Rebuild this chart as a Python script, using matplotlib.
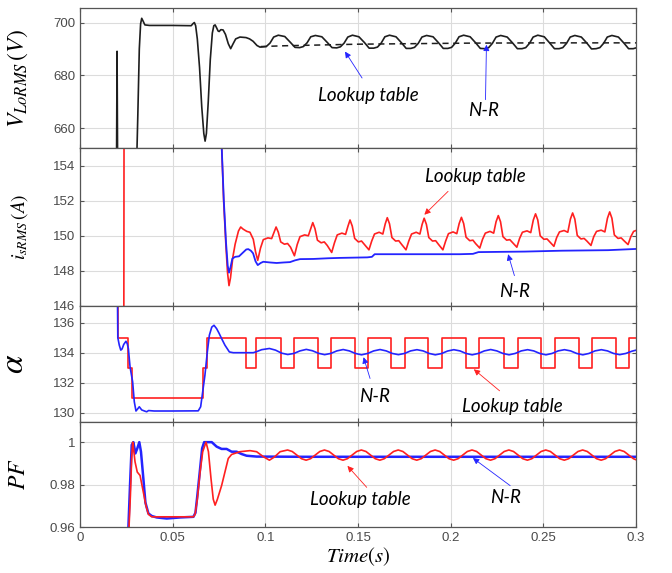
import matplotlib.pyplot as plt

plt.rcParams['mathtext.fontset'] = 'stix'
plt.rcParams['font.family'] = ['Liberation Sans', 'DejaVu Sans']

# ---------------- panel 1: V_LoRMS ----------------
v_lt_t = [0.0197, 0.0200, 0.0203, 0.0305, 0.0312, 0.0320, 0.0327, 0.0333, 0.0340, 0.0350,
          0.0375, 0.0500, 0.0600, 0.0610, 0.0617, 0.0624, 0.0633, 0.0645, 0.0657, 0.0668,
          0.0675, 0.0682, 0.0692, 0.0703, 0.0714, 0.0722, 0.0729, 0.0737, 0.0745, 0.0751,
          0.0760, 0.0772, 0.0785, 0.0800, 0.0813, 0.0825, 0.0840, 0.0863, 0.0896, 0.0915,
          0.0934, 0.0955, 0.0971,
          0.1005, 0.1025, 0.1045, 0.1070, 0.1105, 0.1135, 0.1160, 0.1185,
          0.1205, 0.1225, 0.1245, 0.1270, 0.1305, 0.1335, 0.1360, 0.1385,
          0.1405, 0.1425, 0.1445, 0.1470, 0.1505, 0.1535, 0.1560, 0.1585,
          0.1605, 0.1625, 0.1645, 0.1670, 0.1705, 0.1735, 0.1760, 0.1785,
          0.1805, 0.1825, 0.1845, 0.1870, 0.1905, 0.1935, 0.1960, 0.1985,
          0.2005, 0.2025, 0.2045, 0.2070, 0.2105, 0.2135, 0.2160, 0.2185,
          0.2205, 0.2225, 0.2245, 0.2270, 0.2305, 0.2335, 0.2360, 0.2385,
          0.2405, 0.2425, 0.2445, 0.2470, 0.2505, 0.2535, 0.2560, 0.2585,
          0.2605, 0.2625, 0.2645, 0.2670, 0.2705, 0.2735, 0.2760, 0.2785,
          0.2805, 0.2825, 0.2845, 0.2870, 0.2905, 0.2935, 0.2960, 0.2985, 0.3000]
v_lt = [645, 689.1, 645, 645, 665, 690, 699.5, 701.6, 700.6, 699.1,
        698.9, 698.9, 698.8, 699.6, 700.0, 698.8, 693.8, 683, 668, 658,
        655.1, 658, 670, 686, 696, 698.8, 699.1, 698.0, 696.8, 696.6,
        697.3, 697.2, 695.5, 692.0, 690.1, 691.8, 693.8, 694.5, 694.3, 693.8,
        692.9, 691.3, 690.7,
        690.9, 692.2, 694.5, 695.2, 694.7, 692.5, 690.6, 690.5,
        690.9, 692.3, 694.6, 695.1, 694.6, 692.4, 690.5, 690.4,
        690.8, 692.2, 694.5, 695.2, 694.6, 692.4, 690.3, 690.3,
        690.7, 692.2, 694.6, 695.2, 694.6, 692.3, 690.2, 690.2,
        690.6, 692.1, 694.5, 695.1, 694.6, 692.3, 690.2, 690.2,
        690.6, 692.2, 694.6, 695.2, 694.6, 692.3, 690.2, 690.1,
        690.5, 692.1, 694.5, 695.1, 694.5, 692.2, 690.1, 690.1,
        690.5, 692.1, 694.5, 695.2, 694.6, 692.2, 690.1, 690.1,
        690.5, 692.1, 694.5, 695.1, 694.5, 692.2, 690.0, 690.1,
        690.5, 692.1, 694.5, 695.1, 694.5, 692.2, 690.1, 690.1, 690.4]
v_nr_t = [0.0975, 0.1100, 0.1300, 0.1500, 0.1800, 0.2100, 0.2500, 0.3000]
v_nr = [690.9, 691.2, 691.5, 691.8, 692.0, 692.2, 692.3, 692.3]

# ---------------- panel 2: i_sRMS ----------------
i_lt_t = [0.0236, 0.0239, 0.0758, 0.0764, 0.0775, 0.0787, 0.0796, 0.0804, 0.0812, 0.0825,
          0.0837, 0.0855, 0.0867, 0.0880, 0.0900, 0.0917, 0.0935, 0.0947, 0.0959,
          0.0974, 0.0989, 0.1014, 0.1034, 0.1047, 0.1058, 0.1070, 0.1083, 0.1103, 0.1120, 0.1136, 0.1157,
          0.1172, 0.1187, 0.1212, 0.1232, 0.1245, 0.1256, 0.1268, 0.1281, 0.1301, 0.1318, 0.1334, 0.1358,
          0.1373, 0.1388, 0.1413, 0.1433, 0.1446, 0.1457, 0.1469, 0.1482, 0.1502, 0.1519, 0.1535, 0.1559,
          0.1574, 0.1589, 0.1614, 0.1634, 0.1647, 0.1658, 0.1670, 0.1683, 0.1703, 0.1720, 0.1736, 0.1759,
          0.1774, 0.1789, 0.1814, 0.1834, 0.1846, 0.1857, 0.1869, 0.1882, 0.1902, 0.1919, 0.1935, 0.1958,
          0.1973, 0.1988, 0.2013, 0.2033, 0.2046, 0.2058, 0.2070, 0.2083, 0.2103, 0.2120, 0.2135, 0.2157,
          0.2172, 0.2187, 0.2212, 0.2232, 0.2245, 0.2257, 0.2269, 0.2282, 0.2302, 0.2319, 0.2335, 0.2357,
          0.2372, 0.2387, 0.2412, 0.2432, 0.2446, 0.2458, 0.2470, 0.2483, 0.2503, 0.2520, 0.2535, 0.2557,
          0.2572, 0.2587, 0.2612, 0.2632, 0.2646, 0.2658, 0.2670, 0.2683, 0.2703, 0.2720, 0.2735, 0.2757,
          0.2772, 0.2787, 0.2812, 0.2832, 0.2846, 0.2858, 0.2870, 0.2883, 0.2903, 0.2920, 0.2935, 0.2957,
          0.2972, 0.2987, 0.3000]
i_lt = [140, 170, 170, 155.2, 152.0, 149.5, 147.9, 147.16, 147.6, 148.8,
        149.52, 150.27, 150.5, 150.38, 150.25, 150.2, 149.8, 149.1, 148.6,
        149.3, 149.78, 149.88, 149.84, 150.2, 150.5, 150.2, 149.65, 149.52, 149.56, 149.35, 148.86,
        149.5, 149.95, 150.05, 150.0, 150.4, 150.75, 150.4, 149.75, 149.6, 149.65, 149.45, 149.05,
        149.6, 150.05, 150.15, 150.08, 150.55, 150.9, 150.55, 149.85, 149.65, 149.7, 149.5, 149.2,
        149.7, 150.1, 150.2, 150.1, 150.68, 151.03, 150.68, 149.9, 149.7, 149.72, 149.5, 149.2,
        149.7, 150.1, 150.2, 150.1, 150.65, 151.0, 150.65, 149.9, 149.7, 149.72, 149.5, 149.2,
        149.7, 150.12, 150.22, 150.12, 150.7, 151.05, 150.7, 149.92, 149.72, 149.75, 149.55, 149.3,
        149.8, 150.15, 150.25, 150.15, 150.8, 151.15, 150.8, 149.95, 149.75, 149.78, 149.6, 149.35,
        149.85, 150.2, 150.28, 150.18, 150.9, 151.25, 150.9, 150.0, 149.8, 149.82, 149.65, 149.4,
        149.9, 150.22, 150.3, 150.2, 150.95, 151.3, 150.95, 150.02, 149.82, 149.85, 149.7, 149.45,
        149.95, 150.25, 150.32, 150.22, 151.0, 151.36, 151.0, 150.05, 149.85, 149.88, 149.72, 149.5,
        149.95, 150.25, 150.3]
i_nr_t = [0.0758, 0.0764, 0.0776, 0.0788, 0.0797, 0.0804, 0.0812, 0.0822, 0.0837, 0.0858,
          0.0880, 0.0897, 0.0908, 0.0922, 0.0934, 0.0947, 0.0959, 0.0975, 0.0989, 0.1025,
          0.1061, 0.1100, 0.1133, 0.1160, 0.1187, 0.1259, 0.1340, 0.1403, 0.1550, 0.1575,
          0.1590, 0.2050, 0.2120, 0.2150, 0.2400, 0.2600, 0.2850, 0.3000]
i_nr = [160, 155.2, 152.0, 149.6, 148.3, 147.9, 148.2, 148.7, 148.8, 148.83,
        149.05, 149.22, 149.24, 149.15, 149.0, 148.55, 148.33, 148.45, 148.52, 148.48,
        148.45, 148.48, 148.5, 148.6, 148.67, 148.68, 148.72, 148.74, 148.77, 148.8,
        148.95, 148.95, 148.97, 149.07, 149.1, 149.15, 149.18, 149.25]

# ---------------- panel 3: alpha ----------------
a_lt_t = [0.0200, 0.0203, 0.0261, 0.0282, 0.0662, 0.0687, 0.0896, 0.0951, 0.1086, 0.1152,
          0.1284, 0.1354, 0.1482, 0.1552, 0.1680, 0.1754, 0.1880, 0.1955, 0.2084, 0.2154,
          0.2286, 0.2362, 0.2487, 0.2563, 0.2690, 0.2760, 0.2892, 0.2961, 0.3000]
a_lt = [140, 135, 133, 131, 133, 135, 133, 135, 133, 135,
        133, 135, 133, 135, 133, 135, 133, 135, 133, 135,
        133, 135, 133, 135, 133, 135, 133, 135, 135]
a_nr_t = [0.0202, 0.0204, 0.0212, 0.0220, 0.0227, 0.0236, 0.0248, 0.0255, 0.0261, 0.0270,
          0.0284, 0.0293, 0.0302, 0.0310, 0.0320, 0.0333, 0.0350, 0.0360, 0.0370, 0.0400,
          0.0500, 0.0638, 0.0651, 0.0662, 0.0674, 0.0687, 0.0698, 0.0711, 0.0723, 0.0737,
          0.0750, 0.0764, 0.0782, 0.0806, 0.0827, 0.0881, 0.0935, 0.0955, 0.0980,
          0.1022, 0.1055, 0.1088, 0.1121, 0.1154, 0.1187,
          0.1221, 0.1254, 0.1287, 0.1320, 0.1353, 0.1386,
          0.1420, 0.1453, 0.1486, 0.1519, 0.1552, 0.1585,
          0.1619, 0.1652, 0.1685, 0.1718, 0.1751, 0.1784,
          0.1818, 0.1851, 0.1884, 0.1917, 0.1950, 0.1983,
          0.2017, 0.2050, 0.2083, 0.2116, 0.2149, 0.2182,
          0.2216, 0.2249, 0.2282, 0.2315, 0.2348, 0.2381,
          0.2415, 0.2448, 0.2481, 0.2514, 0.2547, 0.2580,
          0.2614, 0.2647, 0.2680, 0.2713, 0.2746, 0.2779,
          0.2813, 0.2846, 0.2879, 0.2912, 0.2945, 0.2978, 0.3000]
a_nr = [138, 135.0, 134.5, 134.17, 134.25, 134.55, 134.76, 134.6, 134.27, 133.06,
        132.07, 130.74, 130.13, 130.25, 130.41, 130.2, 130.12, 130.08, 130.16, 130.13,
        130.13, 130.14, 130.41, 131.4, 132.5, 134.05, 135.16, 135.7, 135.82, 135.6,
        135.3, 134.94, 134.5, 134.05, 134.0, 134.0, 134.0, 134.08, 134.2,
        134.28, 134.17, 133.97, 133.88, 133.95, 134.12,
        134.22, 134.13, 133.96, 133.87, 133.95, 134.12,
        134.21, 134.12, 133.95, 133.86, 133.95, 134.12,
        134.21, 134.12, 133.95, 133.87, 133.95, 134.12,
        134.2, 134.12, 133.95, 133.86, 133.94, 134.11,
        134.2, 134.12, 133.95, 133.86, 133.95, 134.12,
        134.21, 134.12, 133.95, 133.86, 133.95, 134.12,
        134.2, 134.12, 133.95, 133.86, 133.95, 134.12,
        134.2, 134.12, 133.95, 133.86, 133.95, 134.12,
        134.2, 134.12, 133.95, 133.87, 133.95, 134.1, 134.17]

# ---------------- panel 4: PF ----------------
pf_lt_t = [0.0262, 0.0272, 0.0279, 0.0284, 0.0290, 0.0297, 0.0309, 0.0324, 0.0342, 0.0356,
           0.0369, 0.0387, 0.0500, 0.0612, 0.0621, 0.0633, 0.0648, 0.0662, 0.0680, 0.0693,
           0.0707, 0.0719, 0.0729, 0.0741, 0.0764, 0.0782, 0.0800, 0.0818, 0.0863, 0.0917,
           0.0953, 0.0990, 0.1022, 0.1049, 0.1080,
           0.1120, 0.1145, 0.1170, 0.1195, 0.1220, 0.1244, 0.1269, 0.1294,
           0.1319, 0.1344, 0.1369, 0.1394, 0.1419, 0.1443, 0.1468, 0.1493,
           0.1518, 0.1543, 0.1568, 0.1593, 0.1618, 0.1642, 0.1667, 0.1692,
           0.1717, 0.1742, 0.1767, 0.1792, 0.1817, 0.1841, 0.1866, 0.1891,
           0.1916, 0.1941, 0.1966, 0.1991, 0.2016, 0.2040, 0.2065, 0.2090,
           0.2115, 0.2140, 0.2165, 0.2190, 0.2215, 0.2239, 0.2264, 0.2289,
           0.2314, 0.2339, 0.2364, 0.2389, 0.2414, 0.2438, 0.2463, 0.2488,
           0.2513, 0.2538, 0.2563, 0.2588, 0.2613, 0.2637, 0.2662, 0.2687,
           0.2712, 0.2737, 0.2762, 0.2787, 0.2812, 0.2836, 0.2861, 0.2886,
           0.2911, 0.2936, 0.2961, 0.2986, 0.3000]
pf_lt = [0.955, 0.975, 0.993, 1.0, 0.996, 0.9907, 0.9859, 0.9843, 0.9763, 0.970,
         0.966, 0.9648, 0.9648, 0.9648, 0.9660, 0.9731, 0.9859, 0.9955, 1.0, 0.9955,
         0.9827, 0.9731, 0.9703, 0.9730, 0.9795, 0.9859, 0.9923, 0.9942, 0.9955, 0.9960,
         0.9955, 0.9931, 0.9915, 0.9930, 0.9955,
         0.9963, 0.9956, 0.9939, 0.9922, 0.9915, 0.9922, 0.9939, 0.9956,
         0.9963, 0.9956, 0.9939, 0.9922, 0.9915, 0.9922, 0.9939, 0.9956,
         0.9963, 0.9956, 0.9939, 0.9922, 0.9915, 0.9922, 0.9939, 0.9956,
         0.9963, 0.9956, 0.9939, 0.9922, 0.9915, 0.9922, 0.9939, 0.9956,
         0.9963, 0.9956, 0.9939, 0.9922, 0.9915, 0.9922, 0.9939, 0.9956,
         0.9963, 0.9956, 0.9939, 0.9922, 0.9915, 0.9922, 0.9939, 0.9956,
         0.9963, 0.9956, 0.9939, 0.9922, 0.9915, 0.9922, 0.9939, 0.9956,
         0.9963, 0.9956, 0.9939, 0.9922, 0.9915, 0.9922, 0.9939, 0.9956,
         0.9963, 0.9956, 0.9939, 0.9922, 0.9915, 0.9922, 0.9939, 0.9956,
         0.9963, 0.9956, 0.9939, 0.9922, 0.9917]
pf_nr_t = [0.0259, 0.0270, 0.0279, 0.0288, 0.0299, 0.0309, 0.0320, 0.0329, 0.0342, 0.0353,
           0.0369, 0.0387, 0.0414, 0.0468, 0.0540, 0.0612, 0.0623, 0.0633, 0.0648, 0.0659,
           0.0670, 0.0711, 0.0737, 0.0764, 0.0791, 0.0818, 0.0845, 0.0872, 0.0899, 0.0953,
           0.1200, 0.3000]
pf_nr = [0.955, 0.980, 0.9987, 1.0, 0.9947, 0.997, 1.0, 0.9955, 0.9827, 0.9715,
         0.9664, 0.9652, 0.9645, 0.9640, 0.9645, 0.9648, 0.9667, 0.9747, 0.9875, 0.9971,
         1.0, 1.0, 0.9979, 0.9968, 0.9968, 0.9955, 0.9955, 0.9944, 0.9936, 0.9932,
         0.9931, 0.9931]

x_ticks = [0, 0.05, 0.1, 0.15, 0.2, 0.25, 0.3]
x_tick_labels = ['0', '0.05', '0.1', '0.15', '0.2', '0.25', '0.3']

RED = '#ff2020'
BLUE = '#2424ff'
ANN_FONT = dict(family=['Lato', 'DejaVu Sans'], style='italic', fontsize=13.5, color='#000000')


def panel(fig, top_px, bottom_px):
    left, width = 80 / 672, 556 / 672
    return fig.add_axes([left, 1 - bottom_px / 573, width, (bottom_px - top_px) / 573])


def style_axis(ax, yticks, ylim, ylabel, label_size):
    ax.set_xlim(0, 0.3)
    ax.set_ylim(*ylim)
    ax.set_xticks(x_ticks)
    ax.set_yticks(yticks)
    ax.grid(True, color='#dcdcdc', lw=0.8)
    ax.set_axisbelow(True)
    ax.tick_params(direction='in', length=3, top=True, right=True, color='#555555',
                   labelcolor='#4a4a4a', labelsize=9.5)
    for sp in ax.spines.values():
        sp.set_color('#555555')
        sp.set_linewidth(0.9)
    ax.set_ylabel(ylabel, fontsize=label_size)
    ax.yaxis.set_label_coords(-0.09, 0.5)


def arrow(ax, text, text_xy, tail, tip, color):
    ax.text(*text_xy, text, ha='center', va='center', **ANN_FONT)
    ax.annotate('', xy=tip, xytext=tail,
                arrowprops=dict(arrowstyle='-|>', color=color, lw=0.6, mutation_scale=9,
                                shrinkA=0, shrinkB=0))


fig = plt.figure(figsize=(6.72, 5.73), dpi=100)
ax1 = panel(fig, 8, 148)
ax2 = panel(fig, 148, 306)
ax3 = panel(fig, 306, 422)
ax4 = panel(fig, 422, 527)

# panel 1
ax1.plot(v_lt_t, v_lt, color='#1e1e1e', lw=1.2)
ax1.plot(v_nr_t, v_nr, color='#1e1e1e', lw=1.1, ls=(0, (4, 3)))
style_axis(ax1, [660, 680, 700], (652.5, 705.5), r'$V_{LoRMS}\,(V)$', 17)
arrow(ax1, 'Lookup table', (0.1557, 672.5), (0.1522, 679.0), (0.1430, 689.0), BLUE)
arrow(ax1, 'N-R', (0.2180, 666.8), (0.2188, 670.8), (0.2193, 691.6), BLUE)

# panel 2
ax2.plot(i_lt_t, i_lt, color=RED, lw=1.2)
ax2.plot(i_nr_t, i_nr, color=BLUE, lw=1.3)
style_axis(ax2, [146, 148, 150, 152, 154], (146, 155), r'$i_{sRMS}\,(A)$', 14)
arrow(ax2, 'Lookup table', (0.2135, 153.38), (0.1986, 152.53), (0.1858, 151.2), RED)
arrow(ax2, 'N-R', (0.2344, 146.8), (0.2344, 147.73), (0.2310, 148.95), BLUE)

# panel 3
ax3.step(a_lt_t, a_lt, where='post', color=RED, lw=1.2)
ax3.plot(a_nr_t, a_nr, color=BLUE, lw=1.2)
style_axis(ax3, [130, 132, 134, 136], (129.4, 137.1), r'$\alpha$', 24)
arrow(ax3, 'N-R', (0.1592, 131.07), (0.1565, 132.29), (0.1530, 133.7), BLUE)
arrow(ax3, 'Lookup table', (0.2331, 130.46), (0.2264, 131.47), (0.2125, 132.9), RED)

# panel 4
ax4.plot(pf_nr_t, pf_nr, color=BLUE, lw=1.8)
ax4.plot(pf_lt_t, pf_lt, color=RED, lw=1.2)
style_axis(ax4, [0.96, 0.98, 1.0], (0.96, 1.0095), r'$PF$', 17)
ax4.set_yticklabels(['0.96', '0.98', '1'])
arrow(ax4, 'Lookup table', (0.1511, 0.9731), (0.1547, 0.9787), (0.1443, 0.9888), RED)
arrow(ax4, 'N-R', (0.2298, 0.9739), (0.2321, 0.9795), (0.2120, 0.9925), BLUE)

for ax in (ax1, ax2, ax3):
    ax.tick_params(labelbottom=False)
ax4.set_xticklabels(x_tick_labels)
ax4.set_xlabel(r'$Time(s)$', fontsize=15, labelpad=1)

fig.savefig('out.png', dpi=100)
